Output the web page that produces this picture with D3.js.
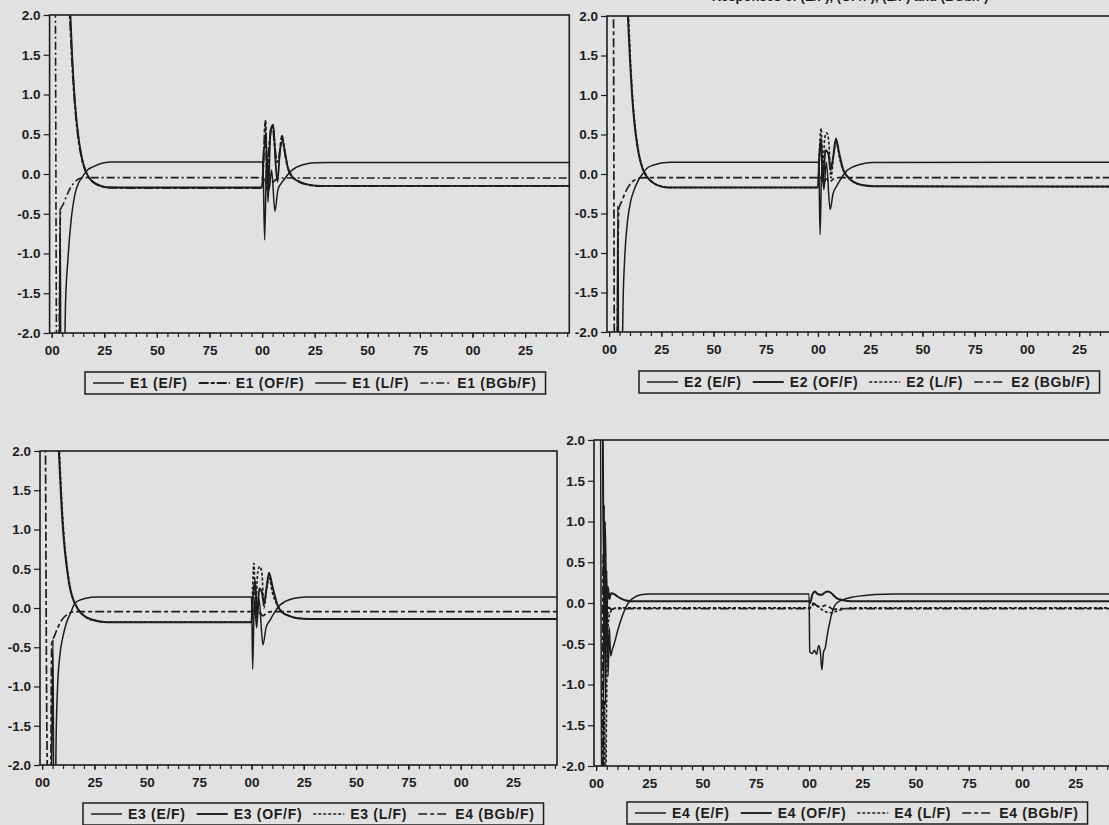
<!DOCTYPE html>
<html>
<head>
<meta charset="utf-8">
<title>E1 - E4 paths</title>
<style>
body {
  margin: 0;
  padding: 0;
  background: #e1e1e1;
  font-family: "Liberation Sans", Arial, sans-serif;
}
svg { display: block; }
.tick text { font-size: 13.5px; fill: #1c1c1c; font-weight: bold; }
.tick line { stroke: #1c1c1c; stroke-width: 1.2; }
.legend text { font-size: 14px; fill: #1c1c1c; letter-spacing: 0.7px; font-weight: bold; }
.title { font-size: 13px; fill: #1c1c1c; font-weight: bold; }
</style>
</head>
<body>
<svg id="chart" width="1109" height="825"></svg>
<script src="https://cdn.jsdelivr.net/npm/d3@7"></script>
<script>

// ---- data: [t, value] ----
var yTicks = [-2.0, -1.5, -1.0, -0.5, 0.0, 0.5, 1.0, 1.5, 2.0]
var xMajor = [0, 25, 50, 75, 100, 125, 150, 175, 200, 225]
var xMinor = d3.range(0, 246, 5)

var e1_EF = [[-1,-2.6],[3.6,-2.6],[4.0,-0.43],[4.4,-2.6],[5.8,-2.6],[6.6,-1.6],[7.7,-1.08],[9.4,-0.54],[11,-0.26],[13,-0.1],[14.5,-0.04],[17,0.05],[19.6,0.09],[23,0.13],[28,0.15],[100,0.15],[100.4,0.12],[101.2,-0.83],[102.2,0.25],[103.3,-0.2],[104.5,0.05],[106.1,-0.47],[107.5,-0.2],[109,-0.12],[111,-0.05],[113,0.02],[116,0.08],[120,0.12],[125,0.14],[132,0.145],[246,0.145]]
var e1_OFF = [[-1,2.6],[7.5,2.6],[8.6,2.0],[9.5,1.5],[10.5,1.05],[11.5,0.72],[12.5,0.48],[13.5,0.3],[14.5,0.17],[15.5,0.08],[16.5,0.01],[18,-0.06],[20,-0.11],[23,-0.15],[27,-0.17],[35,-0.175],[100,-0.175],[100.6,0.1],[101.6,0.67],[102.4,-0.2],[103.5,0.4],[105,0.6],[106,0.35],[107,0.15],[108,0.2],[109.5,0.48],[110.5,0.32],[112,0.1],[114,-0.02],[117,-0.09],[121,-0.13],[127,-0.15],[246,-0.15]]
var e1_LF = [[-1,2.6],[7.8,2.6],[8.9,2.0],[9.8,1.45],[10.8,1.0],[11.8,0.68],[12.8,0.45],[13.8,0.28],[14.8,0.15],[15.8,0.06],[17,-0.01],[18.5,-0.07],[21,-0.12],[24,-0.155],[28,-0.17],[100,-0.17],[100.8,0.3],[102,0.4],[102.8,-0.35],[104,0.55],[105.3,0.62],[106.5,0.1],[107.3,-0.1],[108.5,0.3],[109.8,0.42],[111,0.25],[112.5,0.05],[114.5,-0.04],[118,-0.1],[122,-0.135],[128,-0.15],[246,-0.15]]
var e1_BGB = [[-1,2.6],[1.6,2.6],[2.4,-2.6],[3.2,-2.6],[4.2,-0.45],[5.5,-0.38],[7,-0.28],[9,-0.17],[11,-0.1],[13,-0.06],[16,-0.045],[100,-0.045],[100.8,-0.03],[102,-0.12],[103.5,-0.05],[105,-0.1],[107,-0.06],[110,-0.05],[246,-0.05]]

var e2_EF = [[-1,-2.6],[3.8,-2.6],[4.2,-0.4],[4.6,-2.6],[6,-2.6],[6.8,-1.5],[7.6,-1.0],[8.8,-0.6],[10.3,-0.35],[12,-0.2],[14,-0.08],[16,0.0],[18,0.07],[21,0.11],[25,0.14],[30,0.15],[100,0.15],[100.4,0.1],[101,-0.77],[101.8,0.1],[102.8,-0.2],[104,0.15],[105.8,-0.45],[107.2,-0.25],[109,-0.15],[111,-0.06],[113,0.02],[116,0.08],[120,0.12],[126,0.145],[246,0.15]]
var e2_OFF = [[-1,2.6],[8,2.6],[9,2.0],[10,1.45],[11,1.0],[12,0.68],[13,0.45],[14,0.28],[15,0.16],[16,0.07],[17,0.01],[18.5,-0.05],[21,-0.11],[24,-0.15],[28,-0.17],[100,-0.17],[100.6,0.2],[101.5,0.45],[102.3,-0.1],[103.6,0.3],[105,0.25],[106,0.05],[107.2,0.2],[108.6,0.45],[110,0.28],[112,0.06],[114,-0.03],[117,-0.1],[121,-0.14],[127,-0.155],[246,-0.16]]
var e2_LF = [[-1,2.6],[8.3,2.6],[9.3,2.0],[10.3,1.4],[11.3,0.95],[12.3,0.64],[13.3,0.42],[14.3,0.26],[15.3,0.14],[16.3,0.06],[17.5,0],[19,-0.06],[21.5,-0.12],[25,-0.155],[29,-0.17],[100,-0.17],[100.7,0.3],[101.5,0.58],[102.3,0.0],[103.2,0.45],[104.2,0.52],[105.2,0.4],[106.2,-0.05],[107.5,0.25],[108.8,0.4],[110.2,0.22],[112,0.05],[114,-0.03],[117,-0.1],[121,-0.14],[127,-0.155],[246,-0.16]]
var e2_BGB = [[-1,2.6],[2.0,2.6],[2.6,-2.6],[3.6,-2.6],[4.6,-0.45],[6,-0.35],[7.5,-0.25],[9.5,-0.15],[12,-0.08],[15,-0.05],[18,-0.045],[100,-0.045],[101,-0.03],[102.5,-0.12],[104,-0.06],[105.5,-0.1],[107.5,-0.06],[110,-0.045],[246,-0.045]]

var e3_EF = [[-1,-2.6],[4.2,-2.6],[4.8,-1.3],[5.2,-0.4],[5.6,-2.6],[6.2,-2.6],[6.8,-1.5],[7.4,-1.0],[8.5,-0.6],[10,-0.36],[11.5,-0.2],[13.5,-0.07],[15.7,0.06],[18,0.1],[21,0.125],[26,0.14],[100,0.14],[100.2,0.0],[100.6,-0.78],[101.4,0.1],[102.5,-0.25],[103.6,0.12],[105.5,-0.47],[107,-0.25],[109,-0.15],[111,-0.06],[113,0.02],[116,0.08],[120,0.12],[126,0.14],[246,0.14]]
var e3_OFF = [[-1,2.6],[7,2.6],[8,2.0],[9,1.45],[10,1.0],[11,0.7],[12,0.48],[13,0.3],[14,0.18],[15,0.1],[16,0.04],[17.5,-0.03],[20,-0.1],[24,-0.15],[31,-0.18],[100,-0.18],[100.8,0.15],[101.8,0.35],[102.6,-0.1],[103.8,0.25],[105,0.2],[106,0.05],[107.2,0.25],[108.4,0.45],[110,0.28],[112.7,0.02],[115,-0.06],[118,-0.1],[122,-0.13],[128,-0.14],[246,-0.14]]
var e3_LF = [[-1,2.6],[7.3,2.6],[8.3,2.0],[9.3,1.42],[10.3,0.98],[11.3,0.67],[12.3,0.45],[13.3,0.28],[14.3,0.16],[15.3,0.08],[16.5,0.02],[18,-0.04],[20.5,-0.11],[25,-0.16],[31,-0.18],[100,-0.18],[100.5,0.2],[101.2,0.57],[102,0.0],[103,0.45],[104,0.53],[105,0.45],[106,0.0],[107.3,0.25],[108.6,0.38],[110,0.2],[112.5,0.03],[115,-0.06],[118,-0.1],[122,-0.13],[128,-0.14],[246,-0.14]]
var e3_BGB = [[-1,2.6],[1.4,2.6],[2.2,-1.3],[3,-2.6],[4,-2.6],[4.6,-0.45],[6,-0.35],[7.5,-0.25],[9.5,-0.15],[12,-0.08],[15,-0.05],[18,-0.047],[100,-0.047],[101,-0.03],[102.5,-0.12],[104,-0.06],[105.5,-0.1],[107.5,-0.06],[110,-0.045],[246,-0.045]]

var e4_EF = [[-1,2.6],[2.0,2.6],[2.6,-2.6],[3.2,-2.6],[3.8,1.2],[4.4,-1.25],[5,0.4],[5.6,-0.9],[6.2,-0.3],[6.8,-0.65],[7.5,-0.58],[8.5,-0.5],[10,-0.35],[12,-0.18],[14,-0.05],[16,0.03],[18,0.07],[21,0.1],[25,0.11],[100,0.11],[100.3,-0.6],[101.5,-0.62],[102.5,-0.58],[103.5,-0.63],[104.5,-0.52],[105.3,-0.6],[106,-0.82],[106.8,-0.6],[107.6,-0.55],[108.5,-0.4],[110,-0.2],[111.7,-0.05],[113.5,0.01],[116,0.04],[120,0.07],[125,0.09],[131,0.105],[140,0.11],[246,0.11]]
var e4_OFF = [[-1,2.6],[3,2.6],[3.5,0.5],[4.2,1.0],[4.8,-0.2],[5.5,0.2],[6.2,0.05],[7,0.12],[8.5,0.11],[10,0.08],[12,0.05],[14,0.03],[17,0.02],[100,0.02],[100.5,0.0],[101.5,0.1],[102.8,0.14],[104,0.11],[105.9,0.1],[107.5,0.13],[109,0.14],[110.5,0.12],[112,0.08],[113.5,0.05],[115.3,0.04],[118,0.025],[122,0.02],[246,0.02]]
var e4_LF = [[-1,-2.6],[3.4,-2.6],[3.9,-1.2],[4.4,-2.6],[5,-1.0],[5.6,-0.3],[6.2,-0.15],[7,-0.1],[8,-0.07],[10,-0.06],[100,-0.06],[101,-0.03],[102.5,-0.02],[104,-0.04],[106,-0.08],[108,-0.11],[110,-0.12],[112,-0.11],[114,-0.09],[117,-0.07],[120,-0.06],[246,-0.06]]
var e4_BGB = [[-1,-2.6],[2.8,-2.6],[3.3,0.6],[3.9,-0.4],[4.6,0.1],[5.3,-0.15],[6,-0.05],[7,-0.08],[8.5,-0.07],[100,-0.07],[101,-0.05],[102,0.0],[103.5,-0.03],[105.5,-0.05],[107.5,-0.03],[109.5,-0.05],[111.5,-0.08],[114,-0.07],[246,-0.07]]

var legend1 = ["E1 (E/F)", "E1 (OF/F)", "E1 (L/F)", "E1 (BGb/F)"]
var legend2 = ["E2 (E/F)", "E2 (OF/F)", "E2 (L/F)", "E2 (BGb/F)"]
var legend3 = ["E3 (E/F)", "E3 (OF/F)", "E3 (L/F)", "E4 (BGb/F)"]
var legend4 = ["E4 (E/F)", "E4 (OF/F)", "E4 (L/F)", "E4 (BGb/F)"]

// line styles: [stroke-width, dasharray]
var styles1 = [[1.5, null], [2.0, "10,2,4,2"], [1.8, null], [1.6, "8,3,2,3"]]
var stylesN = [[1.5, null], [2.0, null], [1.6, "3,2"], [1.7, "9,3,4,3"]]

var panels = [
  { series: [e1_EF, e1_OFF, e1_LF, e1_BGB], names: legend1, styles: styles1,
    left: 49.6, right: 569.3, top: 15, bottom: 333, lx: 85, ly: 372 },
  { series: [e2_EF, e2_OFF, e2_LF, e2_BGB], names: legend2, styles: stylesN,
    left: 607, right: 1123, top: 16, bottom: 332, lx: 639, ly: 371 },
  { series: [e3_EF, e3_OFF, e3_LF, e3_BGB], names: legend3, styles: stylesN,
    left: 40, right: 557, top: 451, bottom: 765, lx: 83, ly: 803 },
  { series: [e4_EF, e4_OFF, e4_LF, e4_BGB], names: legend4, styles: stylesN,
    left: 594, right: 1120, top: 440, bottom: 766, lx: 627, ly: 802 }
]

var svg = d3.select("#chart")

// title, cut off by the top edge of the scan
svg.append("text")
  .attr("class", "title")
  .attr("x", 850)
  .attr("y", 1)
  .attr("text-anchor", "middle")
  .text("Responses of (E/F), (OF/F), (L/F) and (BGb/F)")

panels.forEach(function(p, i) {
  var x = d3.scaleLinear().domain([-1, 246]).range([p.left, p.right])
  var y = d3.scaleLinear().domain([-2, 2]).range([p.bottom, p.top])

  var g = svg.append("g")

  g.append("clipPath").attr("id", "clip" + i)
    .append("rect")
    .attr("x", p.left).attr("y", p.top)
    .attr("width", p.right - p.left).attr("height", p.bottom - p.top)

  var line = d3.line()
    .x(function(d) { return x(d[0]) })
    .y(function(d) { return y(d[1]) })
    .curve(d3.curveMonotoneX)

  g.append("g").attr("clip-path", "url(#clip" + i + ")")
    .selectAll("path")
    .data(p.series)
    .enter().append("path")
      .attr("d", line)
      .attr("fill", "none")
      .attr("stroke", "#1c1c1c")
      .attr("stroke-linejoin", "round")
      .attr("stroke-width", function(d, k) { return p.styles[k][0] })
      .attr("stroke-dasharray", function(d, k) { return p.styles[k][1] })

  // frame
  g.append("rect")
    .attr("x", p.left).attr("y", p.top)
    .attr("width", p.right - p.left).attr("height", p.bottom - p.top)
    .attr("fill", "none")
    .attr("stroke", "#1c1c1c")
    .attr("stroke-width", 1.6)

  var yAxis = g.append("g")
    .attr("transform", "translate(" + p.left + ",0)")
    .call(d3.axisLeft(y).tickValues(yTicks).tickSize(6).tickPadding(3)
      .tickFormat(function(d) { return d.toFixed(1) }))
  yAxis.select(".domain").remove()

  var xMin = g.append("g")
    .attr("transform", "translate(0," + p.bottom + ")")
    .call(d3.axisBottom(x).tickValues(xMinor).tickSize(4).tickFormat(""))
  xMin.select(".domain").remove()

  var xAxis = g.append("g")
    .attr("transform", "translate(0," + p.bottom + ")")
    .call(d3.axisBottom(x).tickValues(xMajor).tickSize(5).tickPadding(7)
      .tickFormat(function(d) { return d3.format("02")(d % 100) }))
  xAxis.select(".domain").remove()

  // legend box
  var lg = g.append("g").attr("class", "legend")
  var cx = p.lx + 8
  p.names.forEach(function(name, k) {
    lg.append("line")
      .attr("x1", cx).attr("x2", cx + 31)
      .attr("y1", p.ly + 11).attr("y2", p.ly + 11)
      .attr("stroke", "#1c1c1c")
      .attr("stroke-width", k == 1 ? 1.9 : 1.5)
      .attr("stroke-dasharray", p.styles[k][1])
    var t = lg.append("text")
      .attr("x", cx + 37).attr("y", p.ly + 16)
      .text(name)
    cx = cx + 37 + t.node().getComputedTextLength() + 11
  })
  lg.insert("rect", ":first-child")
    .attr("x", p.lx).attr("y", p.ly)
    .attr("width", cx - p.lx - 2).attr("height", 22)
    .attr("fill", "none")
    .attr("stroke", "#1c1c1c")
    .attr("stroke-width", 1.5)
})

</script>
</body>
</html>
